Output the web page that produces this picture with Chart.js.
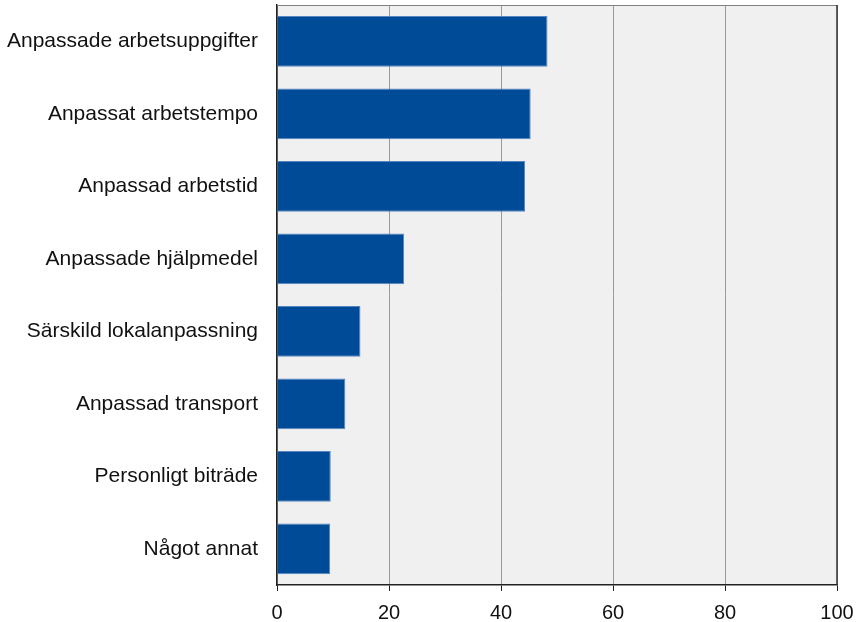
<!DOCTYPE html>
<html>
<head>
<meta charset="utf-8">
<script src="https://cdn.jsdelivr.net/npm/chart.js@4"></script>
<style>
  html, body { margin: 0; padding: 0; background: #fff; }
  #wrap { width: 858px; height: 622px; }
</style>
</head>
<body>
<div id="wrap"><canvas id="chart"></canvas></div>
<script>
const categories = [
  "Anpassade arbetsuppgifter",
  "Anpassat arbetstempo",
  "Anpassad arbetstid",
  "Anpassade hjälpmedel",
  "Särskild lokalanpassning",
  "Anpassad transport",
  "Personligt biträde",
  "Något annat"
];
const values = [48.3, 45.3, 44.3, 22.7, 14.9, 12.2, 9.6, 9.5];
const xTicks = [0, 20, 40, 60, 80, 100];

// gray plot background + frame on top/right
const plotFrame = {
  id: "plotFrame",
  beforeDraw(chart) {
    const { ctx, chartArea: a } = chart;
    ctx.save();
    ctx.fillStyle = "#f0f0f0";
    ctx.fillRect(a.left, a.top, a.right - a.left, a.bottom - a.top);
    ctx.restore();
  },
  afterDraw(chart) {
    const { ctx, chartArea: a } = chart;
    ctx.save();
    ctx.lineWidth = 1;
    ctx.strokeStyle = "#808080";
    ctx.beginPath();
    ctx.moveTo(a.left, a.top + 0.5);
    ctx.lineTo(a.right, a.top + 0.5);
    ctx.stroke();
    ctx.strokeStyle = "#333";
    ctx.lineWidth = 1.5;
    ctx.beginPath();
    ctx.moveTo(a.right, a.top);
    ctx.lineTo(a.right, a.bottom);
    ctx.stroke();
    ctx.restore();
  }
};

new Chart(document.getElementById("chart"), {
  type: "bar",
  data: {
    labels: categories,
    datasets: [{
      data: values,
      backgroundColor: "#004b98",
      borderColor: "#5585c0",
      borderWidth: { top: 1, right: 1, bottom: 1, left: 0 },
      borderSkipped: false,
      barPercentage: 0.7,
      categoryPercentage: 1
    }]
  },
  options: {
    indexAxis: "y",
    responsive: true,
    maintainAspectRatio: false,
    animation: false,
    layout: { padding: { top: 5, right: 21, left: 0, bottom: 0 } },
    plugins: { legend: { display: false }, tooltip: { enabled: false } },
    scales: {
      x: {
        min: 0,
        max: 100,
        afterBuildTicks: (axis) => { axis.ticks = xTicks.map(v => ({ value: v })); },
        afterFit: (axis) => { axis.height = 37; axis.paddingLeft = 0; axis.paddingRight = 0; },
        grid: { color: "#999", tickColor: "#222", tickLength: 6, lineWidth: 1 },
        border: { color: "#222", width: 1.5 },
        ticks: { color: "#111", padding: 10, font: { family: "Liberation Sans, Arial", size: 20 } }
      },
      y: {
        afterFit: (axis) => { axis.width = 277; axis.paddingTop = 0; axis.paddingBottom = 0; },
        grid: { display: false, drawTicks: false },
        border: { color: "#222", width: 1.5 },
        ticks: { color: "#111", padding: 19, font: { family: "Liberation Sans, Arial", size: 21 } }
      }
    }
  },
  plugins: [plotFrame]
});
</script>
</body>
</html>
